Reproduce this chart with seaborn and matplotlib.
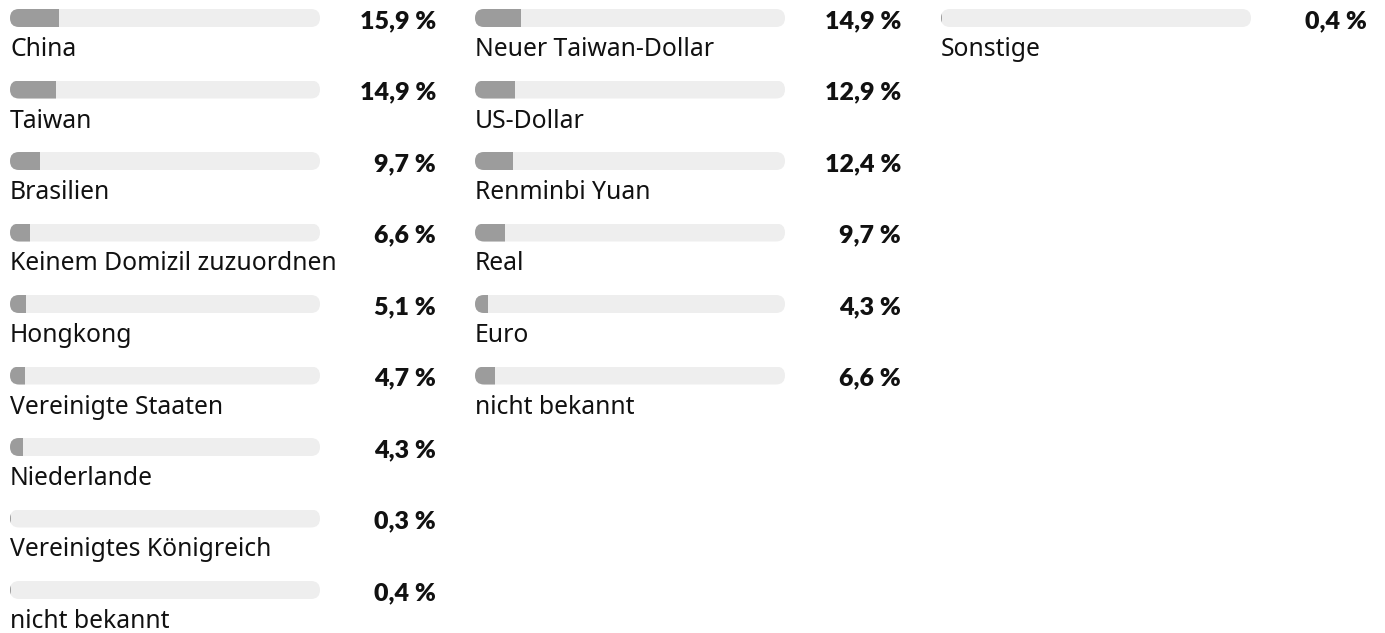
import matplotlib
matplotlib.use("Agg")
import matplotlib.pyplot as plt
import seaborn as sns
import pandas as pd
from matplotlib.patches import FancyBboxPatch
from matplotlib.transforms import IdentityTransform

# Anteile nach Domizil des Emittenten
domizil_labels = ["China", "Taiwan", "Brasilien", "Keinem Domizil zuzuordnen",
                  "Hongkong", "Vereinigte Staaten", "Niederlande",
                  "Vereinigtes Königreich", "nicht bekannt"]
domizil_values = [15.9, 14.9, 9.7, 6.6, 5.1, 4.7, 4.3, 0.3, 0.4]

# Anteile nach Währung
waehrung_labels = ["Neuer Taiwan-Dollar", "US-Dollar", "Renminbi Yuan", "Real",
                   "Euro", "nicht bekannt"]
waehrung_values = [14.9, 12.9, 12.4, 9.7, 4.3, 6.6]

# Sonstige
sonstige_labels = ["Sonstige"]
sonstige_values = [0.4]

TRACK = "#eeeeee"
FILL = "#9c9c9c"
TEXT = "#111111"

sns.set_theme(style="white")
plt.rcParams["font.family"] = ["Noto Sans", "DejaVu Sans"]

W, H, DPI = 1385, 633, 100
fig = plt.figure(figsize=(W / DPI, H / DPI), dpi=DPI)
fig.patch.set_facecolor("white")

ROW0, ROW_STEP, BAR_H = 18.0, 71.5, 18.0
TRACK_W = 310.0
columns = [
    (10.0, domizil_labels, domizil_values),
    (475.0, waehrung_labels, waehrung_values),
    (941.0, sonstige_labels, sonstige_values),
]

def fmt(v):
    return f"{v:.1f}".replace(".", ",") + " %"

for left_px, labels, values in columns:
    ax = fig.add_axes([left_px / W, 0.0, TRACK_W / W, 1.0])
    n = len(labels)
    pos = list(range(n))
    df = pd.DataFrame({"pos": pos, "label": labels, "value": values,
                       "full": [100.0] * n})
    # track and filled share of each row
    sns.barplot(data=df, x="full", y="pos", orient="h", order=pos,
                color=TRACK, width=BAR_H / ROW_STEP, saturation=1,
                linewidth=0, ax=ax)
    sns.barplot(data=df, x="value", y="pos", orient="h", order=pos,
                color=FILL, width=BAR_H / ROW_STEP, saturation=1,
                linewidth=0, ax=ax)
    ax.set_xlim(0, 100)
    ax.set_ylim((H - ROW0) / ROW_STEP, -ROW0 / ROW_STEP)
    ax.axis("off")

    # rounded pill clipping for each row
    for i in range(n):
        x0, y0 = ax.transData.transform((0, i + 0.5 * BAR_H / ROW_STEP))
        x1, y1 = ax.transData.transform((100, i - 0.5 * BAR_H / ROW_STEP))
        pill = FancyBboxPatch((x0, y0), x1 - x0, y1 - y0,
                              boxstyle=f"round,pad=0,rounding_size={(y1 - y0) / 2}",
                              transform=IdentityTransform())
        for cont in ax.containers:
            cont.patches[i].set_clip_path(pill)

    for i, (lab, val) in enumerate(zip(labels, values)):
        ax.text(0, i + 38 / ROW_STEP, lab, ha="left", va="baseline",
                fontsize=17.8, color=TEXT, clip_on=False)
        ax.text(100 + 116 / TRACK_W * 100, i + 10 / ROW_STEP, fmt(val),
                ha="right", va="baseline", fontsize=18, fontweight="heavy",
                family=["Lato", "DejaVu Sans"], color=TEXT, clip_on=False)

fig.savefig("out.png", dpi=DPI, facecolor="white")
